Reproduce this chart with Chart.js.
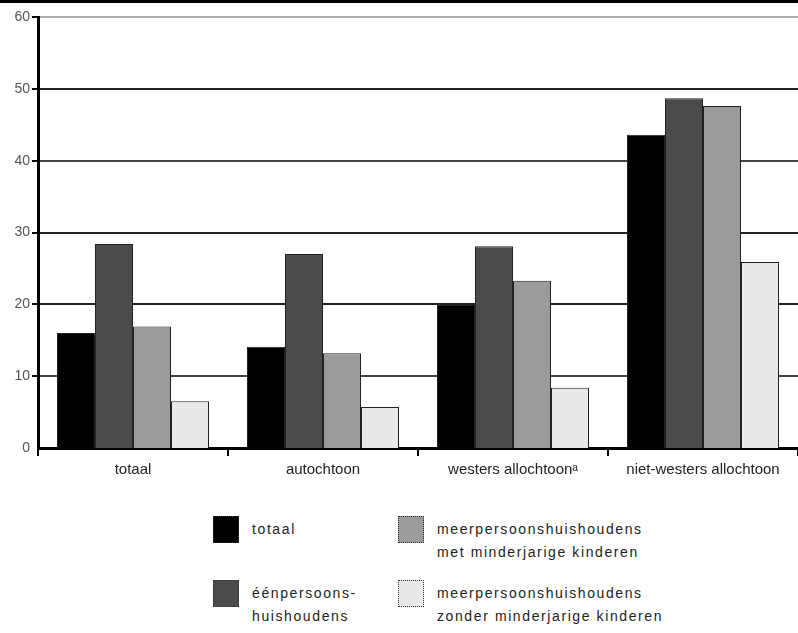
<!DOCTYPE html>
<html>
<head>
<meta charset="utf-8">
<script src="https://cdn.jsdelivr.net/npm/chart.js@4"></script>
<style>
  body { margin: 0; background: #fff; width: 798px; height: 633px; overflow: hidden; position: relative; font-family: "Liberation Sans", Arial, sans-serif; }
  #topline { position: absolute; left: 0; top: 0; width: 798px; height: 3px; background: #000; }
  #wrap { position: absolute; left: 0; top: 0; width: 798px; height: 490px; }
  .lg { position: absolute; font-size: 14px; line-height: 23px; color: #222; letter-spacing: 1.6px; }
  .box { position: absolute; width: 26px; height: 27px; border: 1px dotted #333; box-sizing: border-box; }
</style>
</head>
<body>
<div id="wrap"><canvas id="myChart"></canvas></div>
<div id="topline"></div>
<div id="legend"></div>
<script>
// setup
const categories = ['totaal', 'autochtoon', 'westers allochtoon\u1d43', 'niet-westers allochtoon'];
const totaal = [16.0, 14.1, 19.9, 43.6];
const eenpersoons = [28.4, 27.0, 28.1, 48.7];
const metKinderen = [16.9, 13.2, 23.3, 47.6];
const zonderKinderen = [6.5, 5.7, 8.4, 25.9];
const yTicks = [0, 10, 20, 30, 40, 50, 60];

const seriesNames = ['totaal', 'éénpersoons-\nhuishoudens', 'meerpersoonshuishoudens\nmet minderjarige kinderen', 'meerpersoonshuishoudens\nzonder minderjarige kinderen'];
const fills = ['#000000', '#4b4b4b', '#9b9b9b', '#e9e9e9'];

const data = {
  labels: categories,
  datasets: [totaal, eenpersoons, metKinderen, zonderKinderen].map((vals, i) => ({
    label: seriesNames[i],
    data: vals,
    backgroundColor: fills[i],
    borderColor: '#222',
    borderWidth: 1,
    categoryPercentage: 0.8,
    barPercentage: 1.0
  }))
};

// config
const config = {
  type: 'bar',
  data,
  options: {
    responsive: true,
    maintainAspectRatio: false,
    animation: false,
    layout: { padding: { top: 17, right: 0, left: 0, bottom: 0 } },
    plugins: { legend: { display: false }, tooltip: { enabled: false } },
    scales: {
      x: {
        grid: { display: true, drawOnChartArea: false, offset: true, color: '#000', lineWidth: 2, tickLength: 8 },
        border: { color: '#000', width: 3 },
        ticks: { color: '#222', font: { size: 15, family: 'Liberation Sans' }, padding: 5 },
        afterFit: s => { s.height = 42; }
      },
      y: {
        min: 0,
        max: 60,
        afterBuildTicks: s => { s.ticks = yTicks.map(v => ({ value: v })); },
        grid: {
          color: c => c.tick && c.tick.value === 60 ? '#aaa' : (c.tick && (c.tick.value === 10 || c.tick.value === 40) ? '#444' : '#222'),
          lineWidth: c => c.tick && c.tick.value === 0 ? 0 : 2,
          tickLength: 6,
          tickColor: '#000'
        },
        border: { color: '#000', width: 3 },
        ticks: { color: '#555', font: { size: 14, family: 'Liberation Sans' }, padding: 2 },
        afterFit: s => { s.width = 38; }
      }
    }
  }
};

// render init block
const myChart = new Chart(document.getElementById('myChart'), config);

// legend (2 x 2 grid under the chart)
const legendPos = [
  { x: 213, y: 516 }, { x: 213, y: 580 },
  { x: 398, y: 516 }, { x: 398, y: 580 }
];
const lg = document.getElementById('legend');
seriesNames.forEach((name, i) => {
  const p = legendPos[i];
  const b = document.createElement('div');
  b.className = 'box';
  b.style.left = p.x + 'px';
  b.style.top = p.y + 'px';
  b.style.background = fills[i];
  lg.appendChild(b);
  const t = document.createElement('div');
  t.className = 'lg';
  t.style.left = (p.x + 39) + 'px';
  t.style.top = (p.y + 2) + 'px';
  t.innerHTML = name.replace('\n', '<br>');
  lg.appendChild(t);
});
</script>
</body>
</html>
